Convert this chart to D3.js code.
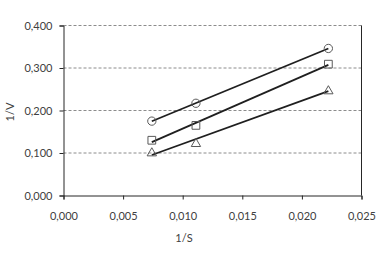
<!DOCTYPE html>
<html>
<head>
<meta charset="utf-8">
<script src="https://cdn.jsdelivr.net/npm/d3@7"></script>
<style>
  body { margin: 0; background: #fff; }
  svg text { font-family: Lato, "Open Sans", sans-serif; font-size: 11px; fill: #404040; }
</style>
</head>
<body>
<svg id="chart" width="382" height="255"></svg>
<script>
// 1/S values shared by all three series
const xValues = [0.00741, 0.01111, 0.02222];
const circleY = [0.175, 0.217, 0.346];
const squareY = [0.130, 0.165, 0.309];
const triangleY = [0.102, 0.124, 0.248];
const xTicks = [0, 0.005, 0.010, 0.015, 0.020, 0.025];
const yTicks = [0, 0.1, 0.2, 0.3, 0.4];

const series = [
  { name: 'circle', values: circleY, symbol: d3.symbolCircle },
  { name: 'square', values: squareY, symbol: d3.symbolSquare },
  { name: 'triangle', values: triangleY, symbol: d3.symbolTriangle }
];

const svg = d3.select('#chart');
const x = d3.scaleLinear().domain([0, 0.025]).range([63.5, 361.5]);
const y = d3.scaleLinear().domain([0, 0.4]).range([195.5, 25.5]);
const fmt = v => d3.format('.3f')(v).replace('.', ',');

// gridlines (dashed)
svg.append('g').selectAll('line')
  .data(yTicks.filter(d => d > 0))
  .enter().append('line')
  .attr('x1', x(0)).attr('x2', x(0.025))
  .attr('y1', d => y(d)).attr('y2', d => y(d))
  .attr('stroke', '#8c8c8c')
  .attr('stroke-dasharray', '3,2');

// right border
svg.append('line')
  .attr('x1', x(0.025)).attr('x2', x(0.025))
  .attr('y1', y(0.4)).attr('y2', y(0))
  .attr('stroke', '#262626');

// axes
const xAxis = svg.append('g')
  .attr('transform', `translate(0,${y(0)})`)
  .call(d3.axisBottom(x).tickValues(xTicks).tickFormat(fmt).tickSize(4).tickPadding(13));
const yAxis = svg.append('g')
  .attr('transform', `translate(${x(0)},0)`)
  .call(d3.axisLeft(y).tickValues(yTicks).tickFormat(fmt).tickSize(4).tickPadding(7));
[xAxis, yAxis].forEach(g => {
  g.select('.domain').attr('stroke', '#262626');
  g.selectAll('.tick line').attr('stroke', '#262626');
  g.selectAll('.tick text').style('font-family', 'Lato, "Open Sans", sans-serif')
    .style('font-size', '11px').attr('fill', '#404040');
});

// axis titles
svg.append('text')
  .attr('x', 184).attr('y', 242)
  .attr('text-anchor', 'middle')
  .text('1/S');
svg.append('text')
  .attr('transform', 'translate(14,112) rotate(-90)')
  .attr('text-anchor', 'middle')
  .text('1/V');

// linear regression trendlines
function fit(xs, ys) {
  const mx = d3.mean(xs), my = d3.mean(ys);
  const sxy = d3.sum(xs, (v, i) => (v - mx) * (ys[i] - my));
  const sxx = d3.sum(xs, v => (v - mx) * (v - mx));
  const b = sxy / sxx;
  return v => my + b * (v - mx);
}

const line = d3.line().x(d => x(d[0])).y(d => y(d[1]));
const xExt = d3.extent(xValues);

series.forEach(s => {
  const f = fit(xValues, s.values);
  svg.append('path')
    .attr('d', line(xExt.map(v => [v, f(v)])))
    .attr('fill', 'none')
    .attr('stroke', '#1f1f1f')
    .attr('stroke-width', 1.8);

  const sym = d3.symbol().type(s.symbol).size(s.name === 'triangle' ? 38 : (s.name === 'square' ? 60 : 54));
  svg.append('g').selectAll('path')
    .data(xValues.map((v, i) => [v, s.values[i]]))
    .enter().append('path')
    .attr('d', sym)
    .attr('transform', d => `translate(${x(d[0])},${y(d[1]) + (s.name === 'triangle' ? 1 : 0)})`)
    .attr('fill', 'none')
    .attr('stroke', '#595959')
    .attr('stroke-width', 1);
});
</script>
</body>
</html>
